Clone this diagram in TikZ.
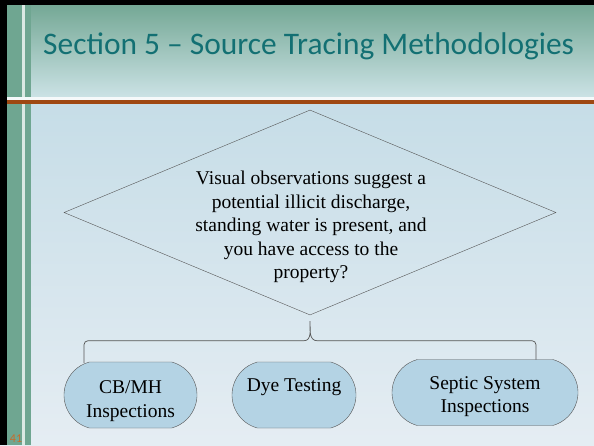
\documentclass[tikz,border=0pt]{standalone}
\usepackage{fontspec}
\setmainfont{Liberation Serif}
\newfontfamily\titlefont{Carlito}
\usetikzlibrary{shapes.geometric,shapes.misc}

\begin{document}
\begin{tikzpicture}[%
        % one unit is one pixel of the slide
        x=1pt,y=1pt,
        % boxes below the question
        choicebox/.style={rounded rectangle, rounded rectangle arc length=150,
            draw=linecolor, fill=boxcolor, minimum height=66pt, inner sep=0pt},
        boxtext/.style={align=center, inner sep=0pt, font=\fontsize{19.5}{23.5}\selectfont},
        bracket/.style={draw=linecolor, line width=0.7pt},
        ]

        \def\W{594};
        \def\H{445};
        \def\By{-340.7};  % height of the bracket
        \coordinate (TL) at (0,0);  % top left corner of slide
        \coordinate (BR) at (\W,-\H);  % bottom right corner of slide
        \coordinate (left foot) at (84,-363);  % bracket end on first box
        \coordinate (right foot) at (536,-361);  % bracket end on last box

        \definecolor{titletop}{RGB}{112, 165, 145}
        \definecolor{titlebottom}{RGB}{203, 226, 229}
        \definecolor{bodytop}{RGB}{198, 221, 231}
        \definecolor{bodybottom}{RGB}{229, 237, 243}
        \definecolor{bandcolor}{RGB}{111, 166, 145}
        \definecolor{rulecolor}{RGB}{158, 72, 18}
        \definecolor{titlecolor}{RGB}{19, 112, 115}
        \definecolor{linecolor}{RGB}{85, 85, 85}
        \definecolor{boxcolor}{RGB}{180, 211, 228}
        \definecolor{numcolor}{RGB}{196, 110, 45}

        \useasboundingbox (TL) rectangle (BR);

        % paint slide background
        \shade[top color=bodytop, bottom color=bodybottom] (0,-104) rectangle (BR);
        \shade[top color=titletop, bottom color=titlebottom] (TL) rectangle (\W,-97);
        \fill[bandcolor] (7,0) rectangle (22,-\H);
        \fill[white!75!bandcolor] (22,0) rectangle (25,-\H);
        \fill[bandcolor] (25,0) rectangle (31,-\H);
        \fill[white!80!titlebottom] (0,-97) rectangle (\W,-100);
        \fill[rulecolor] (0,-100) rectangle (\W,-104);
        \fill[black] (TL) rectangle (7,-\H);
        \fill[black] (TL) rectangle (\W,-5);

        % title and slide number
        \node[font=\titlefont\fontsize{31.4}{38}\selectfont, text=titlecolor, anchor=base west, inner sep=0pt] (title) at (43,-54) {Section 5 – Source Tracing Methodologies};
        \node[font=\titlefont\fontsize{12}{14}\selectfont, text=numcolor, inner sep=0pt] (slideno) at (16,-439) {41};

        % draw the question
        \node[diamond, draw=linecolor, minimum width=492pt, minimum height=205pt, inner sep=0pt] (question) at (310,-212.5) {};
        \node[align=center, inner sep=0pt, font=\fontsize{19.5}{23.4}\selectfont] (questiontext) at (311,-227) {Visual observations suggest a\\ potential illicit discharge,\\ standing water is present, and\\ you have access to the\\ property?};

        % draw bracket
        \draw[bracket] (left foot) -- (84,\By-4) to[out=90,in=180] (88,\By) -- (304,\By)
            to[out=0,in=-90] ([yshift=-6pt]question.south)
            to[out=-90,in=180] (317,\By) -- (532,\By) to[out=0,in=90] (536,\By-4) -- (right foot);

        % draw the boxes
        \node[choicebox, minimum width=133pt] (cbmh) at (130.5,-395) {};
        \node[choicebox, minimum width=124pt] (dye) at (294,-395) {};
        \node[choicebox, minimum width=186pt] (septic) at (485,-392.5) {};
        \node[boxtext] (cbmh text) at ([yshift=-6pt]cbmh.center) {CB/MH\\ Inspections};
        \node[boxtext] (dye text) at ([yshift=8pt]dye.center) {Dye Testing};
        \node[boxtext] (septic text) at ([yshift=-4pt]septic.center) {Septic System\\ Inspections};

    \end{tikzpicture}
\end{document}
